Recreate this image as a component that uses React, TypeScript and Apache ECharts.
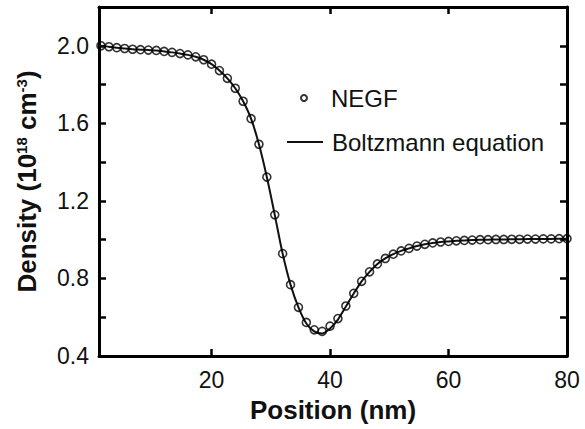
import React, { useEffect, useRef } from "react";
import * as echarts from "echarts";

const positions = [
  1.33, 2.67, 4.0, 5.33, 6.67, 8.0, 9.33, 10.67, 12.0, 13.33,
  14.67, 16.0, 17.33, 18.67, 20.0, 21.33, 22.67, 24.0, 25.33, 26.67,
  28.0, 29.33, 30.67, 32.0, 33.33, 34.67, 36.0, 37.33, 38.67, 40.0,
  41.33, 42.67, 44.0, 45.33, 46.67, 48.0, 49.33, 50.67, 52.0, 53.33,
  54.67, 56.0, 57.33, 58.67, 60.0, 61.33, 62.67, 64.0, 65.33, 66.67,
  68.0, 69.33, 70.67, 72.0, 73.33, 74.67, 76.0, 77.33, 78.67, 80.0,
];

const negf = [
  2.0, 1.995, 1.99, 1.986, 1.982, 1.98, 1.978, 1.976, 1.971, 1.966,
  1.96, 1.953, 1.943, 1.928, 1.905, 1.872, 1.832, 1.781, 1.714, 1.624,
  1.492, 1.323, 1.128, 0.928, 0.768, 0.651, 0.573, 0.535, 0.527, 0.554,
  0.593, 0.658, 0.723, 0.785, 0.834, 0.875, 0.903, 0.925, 0.942, 0.955,
  0.967, 0.976, 0.983, 0.988, 0.991, 0.994, 0.996, 0.998, 1.0, 1.0,
  1.001, 1.001, 1.002, 1.002, 1.003, 1.003, 1.004, 1.004, 1.005, 1.005,
];

const boltzmannPositions = [1.0, ...positions];
const boltzmann = [
  2.0,
  2.0, 1.995, 1.99, 1.986, 1.982, 1.98, 1.978, 1.976, 1.971, 1.966,
  1.96, 1.953, 1.943, 1.928, 1.905, 1.872, 1.832, 1.781, 1.714, 1.624,
  1.492, 1.323, 1.128, 0.928, 0.768, 0.651, 0.568, 0.527, 0.516, 0.542,
  0.588, 0.655, 0.722, 0.785, 0.834, 0.875, 0.903, 0.925, 0.942, 0.955,
  0.967, 0.976, 0.983, 0.988, 0.991, 0.994, 0.996, 0.998, 1.0, 1.0,
  1.001, 1.001, 1.002, 1.002, 1.003, 1.003, 1.004, 1.004, 1.005, 1.005,
];

const xLabelValues = [20, 40, 60, 80];
const xTickValues = [20, 40, 60];
const yLabelValues = [0.4, 0.8, 1.2, 1.6, 2.0];
const yTickValues = [0.6, 0.8, 1.0, 1.2, 1.4, 1.6, 1.8, 2.0];

const FONT = "'Liberation Sans', Arial, Helvetica, sans-serif";
const INK = "#111111";

export default function App() {
  const ref = useRef<HTMLDivElement>(null);

  useEffect(() => {
    document.body.style.margin = "0";
    if (!ref.current) return;
    const chart = echarts.init(ref.current, undefined, { renderer: "svg" });

    const axisLine = () => ({
      show: true,
      onZero: false,
      lineStyle: { color: "#000000", width: 3, opacity: 1 },
    });
    const tick = (vals: number[]) => ({
      show: true,
      inside: true,
      length: 7,
      customValues: vals,
      lineStyle: { color: "#000000", width: 2.5, opacity: 1 },
    });
    const legendText = {
      fontSize: 24,
      fontFamily: FONT,
      color: INK,
      lineHeight: 24,
      padding: [0, 0, 0, 4],
    };

    chart.setOption({
      animation: false,
      backgroundColor: "#ffffff",
      grid: { left: 99, right: 18, top: 7, bottom: 73, containLabel: false },
      legend: [
        {
          orient: "vertical",
          left: 300,
          top: 86,
          padding: 0,
          itemWidth: 36,
          itemHeight: 6,
          textStyle: legendText,
          data: [{ name: "NEGF" }],
        },
        {
          orient: "vertical",
          left: 287,
          top: 130,
          padding: 0,
          itemWidth: 36,
          itemHeight: 2,
          icon: "rect",
          textStyle: legendText,
          data: [{ name: "Boltzmann equation" }],
        },
      ],
      xAxis: [
        {
          type: "value",
          position: "bottom",
          min: 1,
          max: 80,
          axisLine: axisLine(),
          axisTick: tick(xTickValues),
          splitLine: { show: false },
          axisLabel: {
            customValues: xLabelValues,
            fontSize: 23,
            fontFamily: FONT,
            color: INK,
            margin: 12,
          },
          name: "Position (nm)",
          nameLocation: "middle",
          nameGap: 41,
          nameTextStyle: { fontSize: 26, fontWeight: "bold", fontFamily: FONT, color: INK },
        },
        {
          type: "value",
          position: "top",
          min: 1,
          max: 80,
          axisLine: axisLine(),
          axisTick: tick(xTickValues),
          splitLine: { show: false },
          axisLabel: { show: false },
        },
      ],
      yAxis: [
        {
          type: "value",
          position: "left",
          min: 0.4,
          max: 2.2,
          axisLine: axisLine(),
          axisTick: tick(yTickValues),
          splitLine: { show: false },
          axisLabel: {
            customValues: yLabelValues,
            formatter: (v: number) => v.toFixed(1),
            fontSize: 23,
            fontFamily: FONT,
            color: INK,
            margin: 10,
          },
          name: "Density (10{s|18} cm{s|-3})",
          nameLocation: "middle",
          nameGap: 59,
          nameTextStyle: {
            fontSize: 26,
            fontWeight: "bold",
            fontFamily: FONT,
            color: INK,
            rich: {
              s: {
                fontSize: 15,
                fontWeight: "bold",
                fontFamily: FONT,
                color: INK,
                verticalAlign: "top",
                padding: [0, 0, 11, 0],
              },
            },
          },
        },
        {
          type: "value",
          position: "right",
          min: 0.4,
          max: 2.2,
          axisLine: axisLine(),
          axisTick: tick(yTickValues),
          splitLine: { show: false },
          axisLabel: { show: false },
        },
      ],
      series: [
        {
          name: "Boltzmann equation",
          type: "line",
          data: boltzmannPositions.map((x, i) => [x, boltzmann[i]]),
          symbol: "none",
          smooth: 0.3,
          lineStyle: { color: INK, width: 2 },
          itemStyle: { color: INK },
          z: 2,
        },
        {
          name: "NEGF",
          type: "scatter",
          data: positions.map((x, i) => [x, negf[i]]),
          symbol: "circle",
          symbolSize: 8,
          itemStyle: { color: "rgba(0,0,0,0)", borderColor: "#000000", borderWidth: 1.6 },
          z: 3,
        },
      ],
    });

    return () => chart.dispose();
  }, []);

  return <div ref={ref} style={{ width: 585, height: 429 }} />;
}
